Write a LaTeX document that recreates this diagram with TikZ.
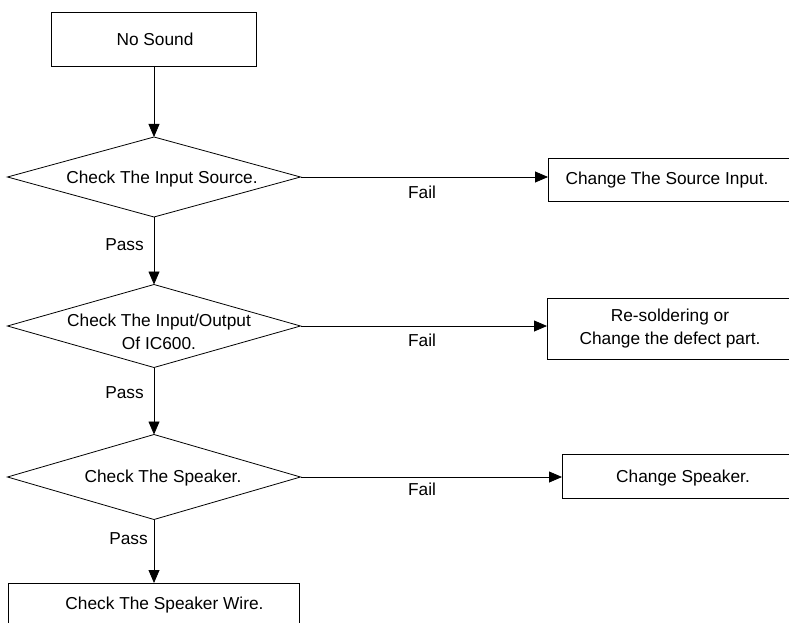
\documentclass[tikz,border=0pt]{standalone}
\usepackage{fontspec}
\setmainfont{Liberation Sans}
\usetikzlibrary{shapes.geometric,arrows.meta}
\begin{document}
\begin{tikzpicture}[x=1pt,y=-1pt,
  font=\fontsize{17.3}{23}\selectfont,
  proc/.style={draw, line width=0.8pt, rectangle, inner sep=0pt, outer sep=0pt},
  dec/.style={draw, line width=0.8pt, diamond, inner sep=0pt, outer sep=0pt, aspect=3.6},
  txt/.style={inner sep=0pt, text height=12.4pt, text depth=0pt},
  mtxt/.style={inner sep=0pt, align=center},
  arr/.style={line width=0.8pt, -{Triangle[length=13pt,width=11pt]}},
  lab/.style={inner sep=0pt, text height=12.4pt, text depth=0pt}]
\useasboundingbox (0,0) rectangle (789,623);

% start
\node[proc, minimum width=205, minimum height=54] (start) at (154,39) {};
\node[txt] (tstart) at (155,39) {No Sound};

% decision 1
\node[dec, minimum width=293, minimum height=80] (d1) at (154,177) {};
\node[txt] (td1) at (162,177) {Check The Input Source.};
\node[proc, anchor=west, minimum width=260, minimum height=43] (b1) at (548,179.5) {};
\node[txt] (tb1) at (667,178.5) {Change The Source Input.};

% decision 2
\node[dec, minimum width=293, minimum height=83] (d2) at (154,326) {};
\node[mtxt] (td2) at (159,332) {Check The Input/Output\\Of IC600.};
\node[proc, anchor=west, minimum width=260, minimum height=61] (b2) at (547,328.5) {};
\node[mtxt] (tb2) at (670,328.5) {Re-soldering or\\Change the defect part.};

% decision 3
\node[dec, minimum width=293, minimum height=85] (d3) at (154,477) {};
\node[txt] (td3) at (163,476.5) {Check The Speaker.};
\node[proc, anchor=west, minimum width=260, minimum height=44] (b3) at (562,476) {};
\node[txt] (tb3) at (683,476) {Change Speaker.};

% end
\node[proc, anchor=north, minimum width=291, minimum height=60] (b4) at (153.5,583) {};
\node[txt] (tb4) at (164.5,603) {Check The Speaker Wire.};

% connectors
\draw[arr] (start.south) -- (start.south |- d1.north);
\draw[arr] (d1.south) -- (d2.north);
\draw[arr] (d2.south) -- (d3.north);
\draw[arr] (d3.south) -- (d3.south |- b4.north);

\draw[arr] (d1.east) -- (d1.east -| b1.west);
\draw[arr] (d2.east) -- (d2.east -| b2.west);
\draw[arr] (d3.east) -- (d3.east -| b3.west);

% labels
\node[lab, anchor=east] (p1) at (144,244) {Pass};
\node[lab, anchor=east] (p2) at (144,392) {Pass};
\node[lab, anchor=east] (p3) at (148,538) {Pass};
\node[lab] (f1) at (422,192) {Fail};
\node[lab] (f2) at (422,340) {Fail};
\node[lab] (f3) at (422,489) {Fail};
\end{tikzpicture}
\end{document}
